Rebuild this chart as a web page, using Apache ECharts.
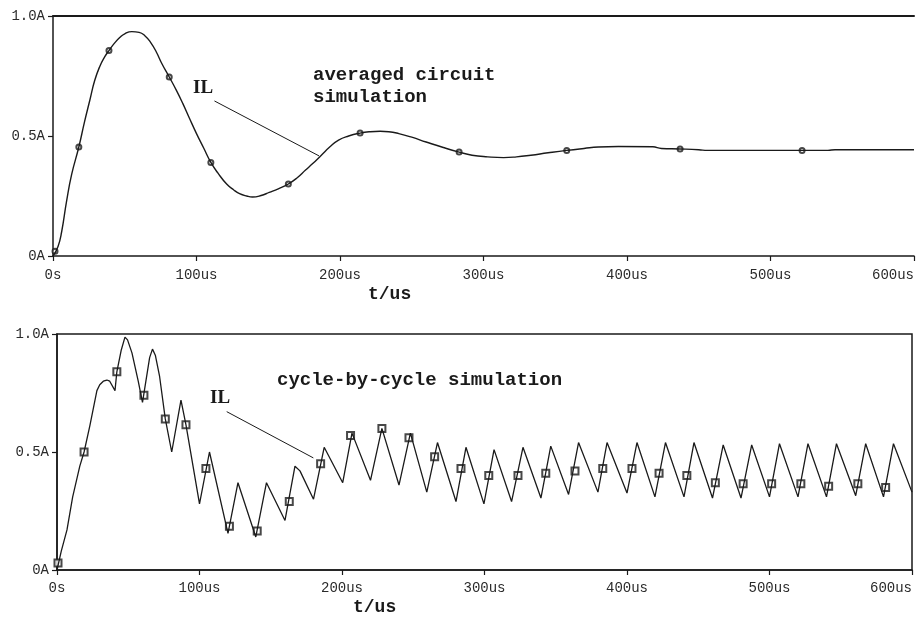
<!DOCTYPE html>
<html><head><meta charset="utf-8">
<script src="https://cdn.jsdelivr.net/npm/echarts@6/dist/echarts.min.js"></script>
<style>html,body{margin:0;padding:0;background:#fff}#c{width:917px;height:619px}</style>
</head><body><div id="c"></div>
<script>
// ---- data ----
const xTickLabels = ['0s','100us','200us','300us','400us','500us','600us'];
const yTickLabels = ['0A','0.5A','1.0A'];

// averaged circuit simulation: time (us), IL (A)
const avgT = [0,3.5,6,9.5,13,18,22,25.7,29,32.6,36,39,43,46.5,50,55,60,64,68,72,76,81,86,90.5,95,100,105,110,115,121,126,130,135,139,145,150.7,157,164,170,176,181,187,193,199,206,214,221,228,234,241,250,260,272,283,292,303,314,323,333,345,358,370,380,394,418,424,437,450,456,520,540,545,600];
const avgIL = [0,0.04,0.10,0.23,0.34,0.454,0.56,0.65,0.73,0.79,0.83,0.856,0.888,0.91,0.926,0.935,0.932,0.918,0.89,0.85,0.80,0.746,0.69,0.635,0.575,0.51,0.45,0.39,0.345,0.30,0.275,0.26,0.25,0.246,0.252,0.265,0.28,0.30,0.325,0.358,0.385,0.42,0.455,0.483,0.50,0.512,0.518,0.52,0.518,0.51,0.495,0.475,0.452,0.433,0.42,0.413,0.41,0.413,0.42,0.43,0.44,0.448,0.454,0.456,0.455,0.448,0.446,0.443,0.44,0.44,0.44,0.443,0.443];
const avgMarkT = [1.4,18,39,81,110,164,214,283,358,437,522];
const avgMarkIL = [0.02,0.454,0.856,0.746,0.39,0.30,0.512,0.433,0.44,0.446,0.44];

// cycle-by-cycle simulation: time (us), IL (A)
const cycT = [0,3,7,11,16,19,23,28,30,32.5,35,37,40.7,42,45,47.7,49.5,52.6,57,60,65,67,69,72,76,80.5,87,90.5,100,107,120,127,139.5,147,160,167,170.5,180,187.5,200.5,207,220,228,240,248,259.5,267,280,287,299.6,306.7,319,327,339.6,346.5,359,366,379.6,386,400,407,419.6,427,440,447,460,467.5,480,487.5,500,507,520,527,540,547,560.5,567.5,580,587,600];
const cycIL = [0,0.08,0.17,0.31,0.44,0.50,0.61,0.76,0.785,0.80,0.805,0.80,0.76,0.84,0.93,0.987,0.975,0.92,0.80,0.71,0.90,0.936,0.91,0.82,0.64,0.50,0.72,0.615,0.28,0.50,0.155,0.37,0.14,0.37,0.21,0.44,0.42,0.30,0.52,0.37,0.58,0.38,0.60,0.36,0.58,0.33,0.54,0.29,0.52,0.28,0.51,0.29,0.52,0.305,0.525,0.32,0.54,0.33,0.54,0.326,0.54,0.31,0.54,0.31,0.54,0.305,0.53,0.305,0.53,0.31,0.535,0.31,0.535,0.31,0.535,0.315,0.535,0.31,0.535,0.33];
const cycMarkT = [0.7,19,42,61,76,90.5,104.5,121,140.5,163,185,206,228,247,265,283.5,303,323.5,343,363.5,383,403.5,422.5,442,462,481.5,501.5,522,541.5,562,581.5];
const cycMarkIL = [0.03,0.50,0.84,0.74,0.64,0.615,0.43,0.185,0.165,0.29,0.45,0.57,0.60,0.56,0.48,0.43,0.40,0.40,0.41,0.42,0.43,0.43,0.41,0.40,0.37,0.365,0.365,0.365,0.355,0.365,0.35];

// leader lines for the "IL" labels (data coordinates)
const avgLeader = [[112.5,0.646],[185.4,0.417]];
const cycLeader = [[119.1,0.671],[179.9,0.475]];

// ---- chart ----
const zip = (a,b) => a.map((v,i)=>[v,b[i]]);
const INK = '#1a1a1a';
const tickFont = {fontFamily:'"Liberation Mono", monospace', fontSize:14, color:'#2a2a2a'};

function xAx(grid, margin){
  return {type:'value', gridIndex:grid, min:0, max:600, interval:100,
    axisLine:{show:true, lineStyle:{color:INK, width:1.5}},
    axisTick:{show:true, length:5, lineStyle:{color:INK, width:1.2}},
    splitLine:{show:false},
    axisLabel:Object.assign({margin:margin, alignMaxLabel:'right',
      formatter:v=>xTickLabels[Math.round(v/100)]}, tickFont)};
}
function yAx(grid){
  return {type:'value', gridIndex:grid, min:0, max:1, interval:0.5,
    axisLine:{show:true, lineStyle:{color:INK, width:1.5}},
    axisTick:{show:true, length:5, lineStyle:{color:INK, width:1.2}},
    splitLine:{show:false},
    axisLabel:Object.assign({margin:8, formatter:v=>yTickLabels[Math.round(v*2)]}, tickFont)};
}

const leaderStyle = {color:INK, width:1, type:'solid'};
function leader(pts){
  return {silent:true, symbol:['none','none'], label:{show:false}, lineStyle:leaderStyle,
    data:[[{coord:pts[0]},{coord:pts[1]}]]};
}

const titleFont = 'bold 19px "Liberation Mono", monospace';

const option = {
  animation:false,
  backgroundColor:'#fff',
  grid:[
    {left:53, right:0, top:16, height:240, show:false},
    {left:57, width:855, top:334, height:236, show:true, borderColor:INK, borderWidth:1.5, backgroundColor:'transparent'}
  ],
  xAxis:[
    xAx(0,12),
    xAx(1,11),
    {type:'value', gridIndex:0, position:'top', min:0, max:600,
      axisLine:{show:true, lineStyle:{color:INK, width:2}}, axisTick:{show:false}, axisLabel:{show:false}, splitLine:{show:false}}
  ],
  yAxis:[yAx(0), yAx(1)],
  series:[
    {type:'line', xAxisIndex:0, yAxisIndex:0, data:zip(avgT,avgIL), smooth:0.5, showSymbol:false,
      lineStyle:{color:INK, width:1.4}, markLine:leader(avgLeader)},
    {type:'scatter', xAxisIndex:0, yAxisIndex:0, data:zip(avgMarkT,avgMarkIL), symbol:'emptyCircle', symbolSize:5,
      itemStyle:{color:INK, borderColor:INK, borderWidth:1.2}},
    {type:'line', xAxisIndex:1, yAxisIndex:1, data:zip(cycT,cycIL), smooth:false, showSymbol:false,
      lineStyle:{color:INK, width:1.3}, markLine:leader(cycLeader)},
    {type:'scatter', xAxisIndex:1, yAxisIndex:1, data:zip(cycMarkT,cycMarkIL), symbol:'emptyRect', symbolSize:7,
      itemStyle:{color:INK, borderColor:INK, borderWidth:1.2}}
  ],
  graphic:[
    {type:'text', x:193, y:88, style:{text:'IL', font:'bold 19px "Liberation Serif", serif', fill:INK, verticalAlign:'middle'}},
    {type:'text', x:313, y:75, style:{text:'averaged circuit', font:titleFont, fill:INK, verticalAlign:'middle'}},
    {type:'text', x:313, y:97, style:{text:'simulation', font:titleFont, fill:INK, verticalAlign:'middle'}},
    {type:'text', x:368, y:294, style:{text:'t/us', font:'bold 18px "Liberation Mono", monospace', fill:INK, verticalAlign:'middle'}},
    {type:'text', x:210, y:398, style:{text:'IL', font:'bold 19px "Liberation Serif", serif', fill:INK, verticalAlign:'middle'}},
    {type:'text', x:277, y:380, style:{text:'cycle-by-cycle simulation', font:titleFont, fill:INK, verticalAlign:'middle'}},
    {type:'text', x:353, y:607, style:{text:'t/us', font:'bold 18px "Liberation Mono", monospace', fill:INK, verticalAlign:'middle'}}
  ]
};
echarts.init(document.getElementById('c'), null, {renderer:'canvas'}).setOption(option);
</script></body></html>
